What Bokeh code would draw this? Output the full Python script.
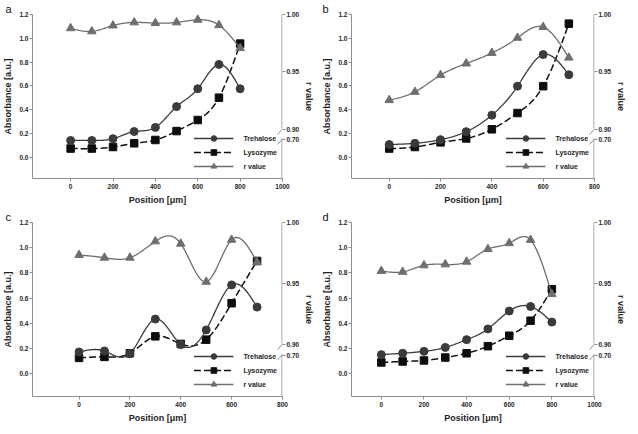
import numpy as np
from bokeh.plotting import figure
from bokeh.models import (Range1d, LinearAxis, FixedTicker, PrintfTickFormatter,
                          Legend, LegendItem)
from bokeh.layouts import row, column
from bokeh.embed import file_html
from bokeh.resources import INLINE

# ---------------- data ----------------
position_a = [0, 100, 200, 300, 400, 500, 600, 700, 800]
trehalose_a = [0.14, 0.14, 0.155, 0.215, 0.25, 0.425, 0.575, 0.78, 0.575]
lysozyme_a = [0.072, 0.072, 0.085, 0.116, 0.144, 0.219, 0.312, 0.50, 0.955]
rvalue_a = [0.988, 0.9853, 0.9904, 0.9931, 0.9925, 0.9931, 0.9954, 0.9907, 0.9707]

position_b = [0, 100, 200, 300, 400, 500, 600, 700]
trehalose_b = [0.106, 0.116, 0.147, 0.214, 0.353, 0.597, 0.863, 0.693]
lysozyme_b = [0.072, 0.085, 0.124, 0.157, 0.234, 0.371, 0.597, 1.123]
rvalue_b = [0.9254, 0.9326, 0.9472, 0.9573, 0.9665, 0.9797, 0.9891, 0.9624]

position_c = [0, 100, 200, 300, 400, 500, 600, 700]
trehalose_c = [0.173, 0.181, 0.160, 0.434, 0.232, 0.348, 0.705, 0.529]
lysozyme_c = [0.126, 0.134, 0.163, 0.297, 0.237, 0.271, 0.560, 0.895]
rvalue_c = [0.9733, 0.9711, 0.9711, 0.9845, 0.9826, 0.9513, 0.9858, 0.9674]

position_d = [0, 100, 200, 300, 400, 500, 600, 700, 800]
trehalose_d = [0.152, 0.163, 0.178, 0.209, 0.271, 0.356, 0.498, 0.534, 0.410]
lysozyme_d = [0.090, 0.098, 0.106, 0.129, 0.163, 0.219, 0.302, 0.421, 0.671]
rvalue_d = [0.9602, 0.9595, 0.9648, 0.9656, 0.9678, 0.9782, 0.9830, 0.9857, 0.9412]

series_names = ["Trehalose", "Lysozyme", "r value"]
panel_letters = ["a", "b", "c", "d"]
x_ticks_800 = [0, 200, 400, 600, 800]
x_ticks_1000 = [0, 200, 400, 600, 800, 1000]
y_ticks = [0.0, 0.2, 0.4, 0.6, 0.8, 1.0, 1.2]
r_ticks = [0.90, 0.95, 1.00]
r_break_label = "0.70"
x_label = "Position [\u03bcm]"
y_label = "Absorbance [a.u.]"
r_label = "r value"

# ---------------- style ----------------
FONT = "Liberation Sans"
AXIS_C = "#8f8f8f"
TXT_C = "#1e1e1e"
TRE_C = "#3b3b3b"
LYS_C = "#0d0d0d"
R_C = "#6e6e6e"

Y_MIN, Y_MAX = -0.18, 1.2
R_TOP = 1.00
ABS_PER_R = 9.66
R_LO = R_TOP - (Y_MAX - Y_MIN) / ABS_PER_R
R_BREAK = 0.891

W_LEFT, W_RIGHT = 317, 312
H_TOP, H_BOTTOM = 208, 217


def r_to_abs(r):
    return Y_MAX - (R_TOP - r) * ABS_PER_R


def smooth(x, y, n=24):
    x = np.asarray(x, float)
    y = np.asarray(y, float)
    N = len(x)
    h = np.diff(x)
    A = np.zeros((N, N))
    b = np.zeros(N)
    A[0, 0] = 1.0
    A[-1, -1] = 1.0
    for i in range(1, N - 1):
        A[i, i - 1] = h[i - 1]
        A[i, i] = 2 * (h[i - 1] + h[i])
        A[i, i + 1] = h[i]
        b[i] = 3 * ((y[i + 1] - y[i]) / h[i] - (y[i] - y[i - 1]) / h[i - 1])
    c = np.linalg.solve(A, b)
    xs, ys = [], []
    for i in range(N - 1):
        t = np.linspace(0, h[i], n, endpoint=(i == N - 2))
        bi = (y[i + 1] - y[i]) / h[i] - h[i] * (2 * c[i] + c[i + 1]) / 3
        di = (c[i + 1] - c[i]) / (3 * h[i])
        xs.extend(x[i] + t)
        ys.extend(y[i] + bi * t + c[i] * t ** 2 + di * t ** 3)
    return xs, ys


def style_axis(ax):
    ax.axis_line_color = AXIS_C
    ax.axis_line_width = 1
    ax.major_tick_line_color = AXIS_C
    ax.major_tick_out = 3
    ax.major_tick_in = 0
    ax.minor_tick_line_color = None
    ax.major_label_text_font = FONT
    ax.major_label_text_font_style = "bold"
    ax.major_label_text_font_size = "6.5px"
    ax.major_label_text_color = TXT_C
    ax.major_label_standoff = 2
    ax.axis_label_text_font = FONT
    ax.axis_label_text_font_style = "bold"
    ax.axis_label_text_font_size = "9px"
    ax.axis_label_text_color = TXT_C
    ax.axis_label_standoff = 3


def make_panel(letter, pos, tre, lys, rv, x_start, x_end, x_ticks,
               width, height, bl, br, bt, bb, letter_dx):
    fw = width - bl - br
    fh = height - bt - bb
    p = figure(width=width, height=height, output_backend="svg", toolbar_location=None,
               x_range=Range1d(x_start, x_end), y_range=Range1d(Y_MIN, Y_MAX),
               min_border_left=bl, min_border_right=br, min_border_top=bt,
               min_border_bottom=bb, x_axis_label=x_label, y_axis_label=y_label,
               styles={"flex-shrink": "0", "flex": "0 0 auto"})
    p.extra_y_ranges = {"r": Range1d(R_LO, R_TOP)}
    p.xgrid.visible = False
    p.ygrid.visible = False
    p.outline_line_color = None
    p.background_fill_color = "white"
    p.border_fill_color = "white"

    # panel letter as the figure title
    p.title.text = letter
    p.title.align = "left"
    p.title.offset = letter_dx
    p.title.standoff = 0
    p.title.text_font = FONT
    p.title.text_font_size = "11px"
    p.title.text_font_style = "normal"
    p.title.text_color = "#111111"

    xa = p.xaxis[0]
    xa.ticker = FixedTicker(ticks=x_ticks)
    style_axis(xa)
    ya = p.yaxis[0]
    ya.ticker = FixedTicker(ticks=y_ticks)
    ya.formatter = PrintfTickFormatter(format="%.1f")
    style_axis(ya)
    ya.major_label_standoff = 1

    ra = LinearAxis(y_range_name="r", ticker=FixedTicker(ticks=[R_BREAK] + r_ticks),
                    formatter=PrintfTickFormatter(format="%.2f"), axis_label=r_label)
    ra.major_label_overrides = {R_BREAK: r_break_label}
    style_axis(ra)
    ra.axis_line_color = None
    ra.major_label_standoff = 1
    ra.axis_label_standoff = 2
    p.add_layout(ra, "right")

    # right axis line drawn with a break between 0.90 and 0.70
    dx = (x_end - x_start) / fw
    dy = (Y_MAX - Y_MIN) / fh
    y_t1 = r_to_abs(r_ticks[0])
    y_t2 = r_to_abs(R_BREAK)
    ax_x = x_end - 0.5 * dx
    p.segment(x0=[ax_x, ax_x], y0=[Y_MIN, y_t1 + 1 * dy],
              x1=[ax_x, ax_x], y1=[y_t2 + 1 * dy, Y_MAX],
              line_color=AXIS_C, line_width=1)
    yc = np.array([y_t1 - 2 * dy, y_t2 - 1.5 * dy])
    p.segment(x0=[x_end - 5 * dx] * 2, y0=list(yc - 3.3 * dy),
              x1=[x_end + 1 * dx] * 2, y1=list(yc + 3.3 * dy),
              line_color=AXIS_C, line_width=1)

    # series
    xs, ys = smooth(pos, lys)
    l2 = p.line(xs, ys, line_color=LYS_C, line_width=1.5, line_dash="7 3")
    s2 = p.scatter(pos, lys, marker="square", size=7.5, fill_color=LYS_C, line_color=LYS_C)
    xs, ys = smooth(pos, tre)
    l1 = p.line(xs, ys, line_color=TRE_C, line_width=1.3)
    s1 = p.scatter(pos, tre, marker="circle", size=8, fill_color=TRE_C, line_color=TRE_C)
    xs, ys = smooth(pos, rv)
    l3 = p.line(xs, ys, line_color=R_C, line_width=1.3, y_range_name="r")
    s3 = p.scatter(pos, rv, marker="triangle", size=8.5, fill_color=R_C, line_color=R_C,
                   y_range_name="r")

    legend = Legend(items=[LegendItem(label=series_names[0], renderers=[l1, s1]),
                           LegendItem(label=series_names[1], renderers=[l2, s2]),
                           LegendItem(label=series_names[2], renderers=[l3, s3])],
                    location="bottom_right", glyph_width=40, glyph_height=14, spacing=0,
                    label_height=10, label_standoff=10, padding=0, margin=5,
                    border_line_color=None, background_fill_alpha=0,
                    label_text_font=FONT, label_text_font_style="bold",
                    label_text_font_size="7px", label_text_color=TXT_C)
    p.add_layout(legend)
    return p


pa = make_panel(panel_letters[0], position_a, trehalose_a, lysozyme_a, rvalue_a,
                -180, 1000, x_ticks_1000, W_LEFT, H_TOP, 27, 34, 13, 30, -27)
pb = make_panel(panel_letters[1], position_b, trehalose_b, lysozyme_b, rvalue_b,
                -147, 800, x_ticks_800, W_RIGHT, H_TOP, 34, 32, 13, 30, -29)
pc = make_panel(panel_letters[2], position_c, trehalose_c, lysozyme_c, rvalue_c,
                -183, 800, x_ticks_800, W_LEFT, H_BOTTOM, 27, 35, 13, 29, -27)
pd = make_panel(panel_letters[3], position_d, trehalose_d, lysozyme_d, rvalue_d,
                -140, 1000, x_ticks_1000, W_RIGHT, H_BOTTOM, 34, 31, 13, 29, -29)

total_w = W_LEFT + W_RIGHT
layout = column(row(pa, pb, width=total_w, height=H_TOP),
                row(pc, pd, width=total_w, height=H_BOTTOM),
                width=total_w, height=H_TOP + H_BOTTOM)
open("out.html", "w").write(file_html(layout, INLINE))
